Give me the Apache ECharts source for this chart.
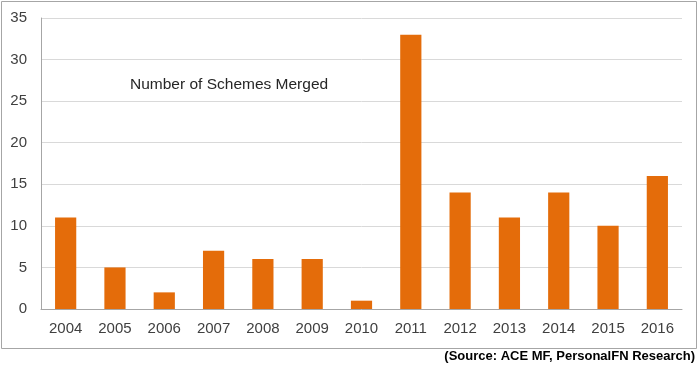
<!DOCTYPE html>
<html><head><meta charset="utf-8">
<script src="https://cdn.jsdelivr.net/npm/echarts@6/dist/echarts.min.js"></script>
<style>html,body{margin:0;padding:0;background:#fff}#c{width:700px;height:365px}</style>
</head><body><div id="c"></div>
<script>
const categories = ['2004','2005','2006','2007','2008','2009','2010','2011','2012','2013','2014','2015','2016'];
const values = [11,5,2,7,6,6,1,33,14,11,14,10,16];
const yTicks = [0,5,10,15,20,25,30,35];
const chart = echarts.init(document.getElementById('c'));
chart.setOption({
  animation:false,
  grid:{left:41,right:18,top:18,bottom:56,containLabel:false},
  xAxis:{type:'category',data:categories,
    axisLine:{lineStyle:{color:'#a6a6a6',width:1}},axisTick:{show:false},
    axisLabel:{color:'#404040',fontSize:15,fontFamily:'Liberation Sans, Arial',margin:12}},
  yAxis:{type:'value',min:yTicks[0],max:yTicks[yTicks.length-1],interval:5,
    axisLine:{show:true,lineStyle:{color:'#a6a6a6'}},axisTick:{show:false},
    splitLine:{lineStyle:{color:'#d9d9d9'}},
    axisLabel:{color:'#404040',fontSize:15,fontFamily:'Liberation Sans, Arial',margin:14}},
  series:[{type:'bar',data:values,barWidth:'43%',itemStyle:{color:'#e46c0a'}}],
  graphic:[
    {type:'rect',shape:{x:1.5,y:1.5,width:695,height:347},style:{fill:'none',stroke:'#a6a6a6',lineWidth:1}},
    {type:'text',left:130,top:77,style:{text:'Number of Schemes Merged',fill:'#262626',font:'15.5px Liberation Sans, Arial'}},
    {type:'text',right:5,top:350,style:{text:'(Source: ACE MF, PersonalFN Research)',fill:'#000',font:'bold 13px Liberation Sans, Arial'}}
  ]
});
</script></body></html>
